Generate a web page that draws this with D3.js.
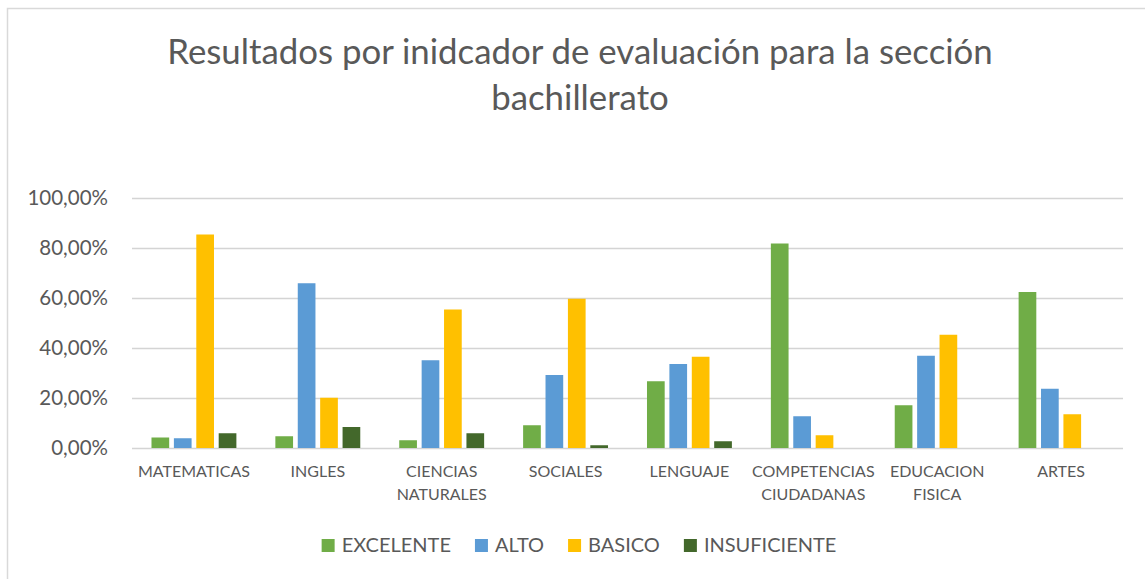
<!DOCTYPE html>
<html>
<head>
<meta charset="utf-8">
<script src="https://cdn.jsdelivr.net/npm/d3@7"></script>
<style>
  body { margin: 0; background: #fff; }
  text { font-family: Lato, "Open Sans", sans-serif; fill: #595959; }
</style>
</head>
<body>
<div id="bar-chart"></div>
<script>
const titleLines = ["Resultados por inidcador de evaluación para la sección", "bachillerato"]
const categories = ["MATEMATICAS", "INGLES", "CIENCIAS NATURALES", "SOCIALES", "LENGUAJE", "COMPETENCIAS CIUDADANAS", "EDUCACION FISICA", "ARTES"]
const seriesNames = ["EXCELENTE", "ALTO", "BASICO", "INSUFICIENTE"]
const excelente = [0.042, 0.047, 0.031, 0.091, 0.267, 0.818, 0.171, 0.624]
const alto = [0.039, 0.659, 0.351, 0.292, 0.336, 0.127, 0.369, 0.237]
const basico = [0.854, 0.201, 0.554, 0.597, 0.365, 0.051, 0.453, 0.135]
const insuficiente = [0.059, 0.084, 0.059, 0.011, 0.027, 0, 0, 0]
const yTicks = [0, 0.2, 0.4, 0.6, 0.8, 1]
const colors = ["#70AD47", "#5B9BD5", "#FFC000", "#43682B"]

const drawBarChart = () => {
  const width = 1145
  const height = 579
  const margin = { top: 198, right: 22, bottom: 131, left: 132 }
  const innerWidth = width - margin.left - margin.right
  const innerHeight = height - margin.top - margin.bottom

  const values = [excelente, alto, basico, insuficiente]
  const data = categories.map((c, i) => ({
    category: c,
    values: seriesNames.map((s, j) => ({ series: s, value: values[j][i] }))
  }))

  const svg = d3.select("#bar-chart")
    .append("svg")
      .attr("width", width)
      .attr("height", height)

  svg.append("rect")
    .attr("x", 7.5)
    .attr("y", 8.5)
    .attr("width", 1200)
    .attr("height", 700)
    .attr("fill", "none")
    .attr("stroke", "#d9d9d9")
    .attr("stroke-width", 1.5)

  svg.append("g")
    .selectAll("text")
    .data(titleLines)
    .join("text")
      .attr("x", 580)
      .attr("y", (d, i) => 64 + i * 46)
      .attr("text-anchor", "middle")
      .attr("font-size", 34.8)
      .text(d => d)

  const chart = svg.append("g")
    .attr("transform", `translate(${margin.left}, ${margin.top})`)

  const xScale = d3.scaleBand()
    .domain(categories)
    .range([0, innerWidth])

  const xSub = d3.scaleBand()
    .domain(seriesNames)
    .range([0, xScale.bandwidth()])
    .paddingInner(0.21)
    .paddingOuter(0.87)

  const yScale = d3.scaleLinear()
    .domain([0, 1])
    .range([innerHeight, 0])

  const locale = d3.formatLocale({ decimal: ",", thousands: ".", grouping: [3], currency: ["", "€"] })
  const yAxis = d3.axisLeft(yScale)
    .tickValues(yTicks)
    .tickFormat(locale.format(".2%"))
    .tickSize(-innerWidth)
    .tickPadding(24)

  chart.append("g")
    .attr("class", "axis-y")
    .call(yAxis)
    .call(g => g.select(".domain").remove())
    .call(g => g.selectAll("line").attr("stroke", "#d4d4d4").attr("stroke-width", 1.4))
    .call(g => g.selectAll("text").attr("font-size", 20.5).attr("fill", "#595959").attr("font-family", null))

  const groups = chart.append("g")
    .selectAll("g")
    .data(data)
    .join("g")
      .attr("transform", d => `translate(${xScale(d.category)}, 0)`)

  groups.selectAll("rect")
    .data(d => d.values)
    .join("rect")
      .attr("x", d => xSub(d.series))
      .attr("width", xSub.bandwidth())
      .attr("y", d => yScale(d.value))
      .attr("height", d => innerHeight - yScale(d.value))
      .attr("fill", (d, i) => colors[i])

  const xAxis = d3.axisBottom(xScale).tickSize(0).tickPadding(18)
  chart.append("g")
    .attr("class", "axis-x")
    .attr("transform", `translate(0, ${innerHeight})`)
    .call(xAxis)
    .call(g => g.select(".domain").remove())
    .call(g => g.selectAll("text")
      .attr("font-size", 16)
      .attr("fill", "#595959")
      .attr("font-family", null)
      .call(wrap, xScale.bandwidth() - 4))

  drawLegend(svg)
}

const wrap = (texts, maxWidth) => {
  texts.each(function() {
    const text = d3.select(this)
    const words = text.text().split(" ")
    const y = text.attr("y")
    const dy = parseFloat(text.attr("dy"))
    text.text(null)
    let line = []
    let lineNumber = 0
    let tspan = text.append("tspan").attr("x", 0).attr("y", y).attr("dy", dy + "em")
    words.forEach(w => {
      line.push(w)
      tspan.text(line.join(" "))
      if (tspan.node().getComputedTextLength() > maxWidth && line.length > 1) {
        line.pop()
        tspan.text(line.join(" "))
        line = [w]
        lineNumber++
        tspan = text.append("tspan").attr("x", 0).attr("y", y)
          .attr("dy", (dy + lineNumber * 1.4) + "em")
          .text(w)
      }
    })
  })
}

const drawLegend = (svg) => {
  const legend = svg.append("g")
  const items = legend.selectAll("g")
    .data(seriesNames)
    .join("g")

  items.append("rect")
    .attr("width", 13)
    .attr("height", 13)
    .attr("y", -13)
    .attr("fill", (d, i) => colors[i])

  items.append("text")
    .attr("x", 20)
    .attr("font-size", 20)
    .text(d => d)

  let x = 0
  items.each(function() {
    const w = d3.select(this).select("text").node().getComputedTextLength()
    d3.select(this).attr("transform", `translate(${x}, 0)`)
    x += 20 + w + 24
  })
  const total = x - 24
  legend.attr("transform", `translate(${579 - total / 2}, 552)`)
}

drawBarChart()
</script>
</body>
</html>
